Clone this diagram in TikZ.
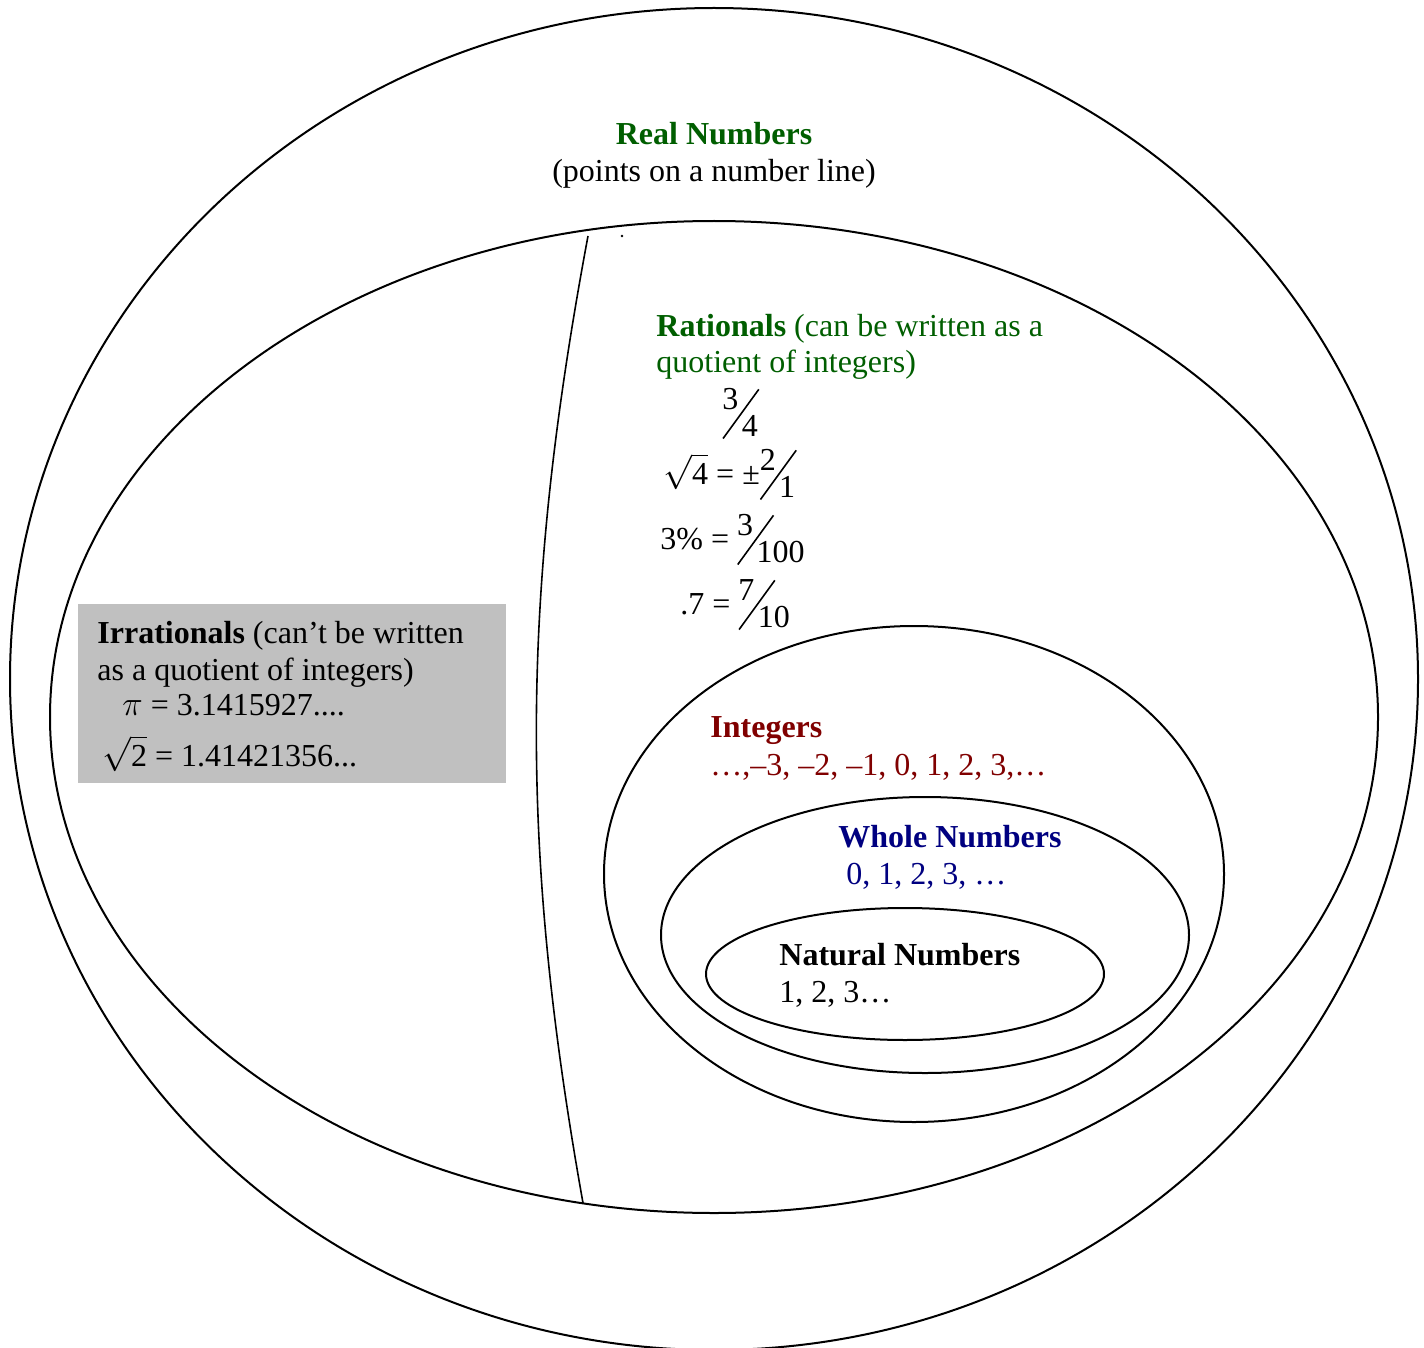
\documentclass[tikz,border=0pt]{standalone}
\usepackage{fontspec}
\setmainfont{Liberation Serif}
\usepackage{graphicx}
\usetikzlibrary{positioning}
\definecolor{RealGreen}{RGB}{0,94,0}
\definecolor{IntRed}{RGB}{128,0,0}
\definecolor{WholeBlue}{RGB}{0,0,128}
\definecolor{BoxGray}{RGB}{192,192,192}
% slanted fraction, numerator up, denominator down
\newcommand\slfrac[2]{\raisebox{0.43em}{#1}\kern-0.5em\raisebox{-0.5em}{\rotatebox{54}{\rule{1.9em}{0.05em}}}\kern-0.55em\raisebox{-0.43em}{#2}}
\tikzset{
  setline/.style={draw=black,line width=1pt},
  cutline/.style={draw=black,line width=0.8pt},
  graybox/.style={fill=BoxGray,draw=none,minimum width=214pt,minimum height=89.5pt,inner sep=0pt},
  txt/.style={anchor=base west,inner sep=0pt,font=\fontsize{16}{19}\selectfont},
  ctxt/.style={txt,anchor=base}
}

\begin{document}
\begin{tikzpicture}[x=0.5pt,y=-0.5pt]
\useasboundingbox (0,0) rectangle (1424,1348);
% the sets
\draw[setline] (714,679) ellipse [x radius=704,y radius=671];
\draw[setline] (714,717) ellipse [x radius=664,y radius=496];
\draw[setline] (914,874) ellipse [x radius=310,y radius=248];
\draw[setline] (925,935) ellipse [x radius=264,y radius=138];
\draw[setline] (905,974) ellipse [x radius=199,y radius=66];
\draw[cutline] (588,236) .. controls (520,600) and (520,850) .. (583,1203);
\fill (622,236) circle (1.3);

\node[graybox] (irrbox) at (292,693.5) {};

% labels
\node[ctxt,font=\fontsize{16}{19}\selectfont\bfseries,text=RealGreen] (real) at (714,145) {Real Numbers};
\node[ctxt] (realsub) at (714,182) {(points on a number line)};

\node[txt,text=RealGreen] (rat) at (656,336) {\textbf{Rationals} (can be written as a};
\node[txt,text=RealGreen] (rat2) at (656,372) {quotient of integers)};
\node[txt] (q1) at (722,423) {\slfrac{3}{4}};
\node[txt] (q2) at (663,484) {$\sqrt{\mbox{4}}$ = ±\slfrac{2}{1}};
\node[txt] (q3) at (660,549) {3\% = \slfrac{3}{100}};
\node[txt] (q4) at (680,614) {.7 = \slfrac{7}{10}};

\node[txt] (irr) at (97,643) {\textbf{Irrationals} (can't be written};
\node[txt] (irr2) at (97,680) {as a quotient of integers)};
\node[txt] (pi) at (122,715) {$\pi$ = 3.1415927....};
\node[txt] (sq2) at (102,766) {$\sqrt{\mbox{2}}$ = 1.41421356...};

\node[txt,text=IntRed] (intg) at (710,737) {\textbf{Integers}};
\node[txt,text=IntRed] (intg2) at (710,775) {\ldots,--3, --2, --1, 0, 1, 2, 3,\ldots};

\node[txt,text=WholeBlue] (whole) at (838,847) {\textbf{Whole Numbers}};
\node[txt,text=WholeBlue] (whole2) at (846,884) {0, 1, 2, 3, \ldots};

\node[txt] (nat) at (779,965) {\textbf{Natural Numbers}};
\node[txt] (nat2) at (779,1002) {1, 2, 3\ldots};
\end{tikzpicture}
\end{document}
